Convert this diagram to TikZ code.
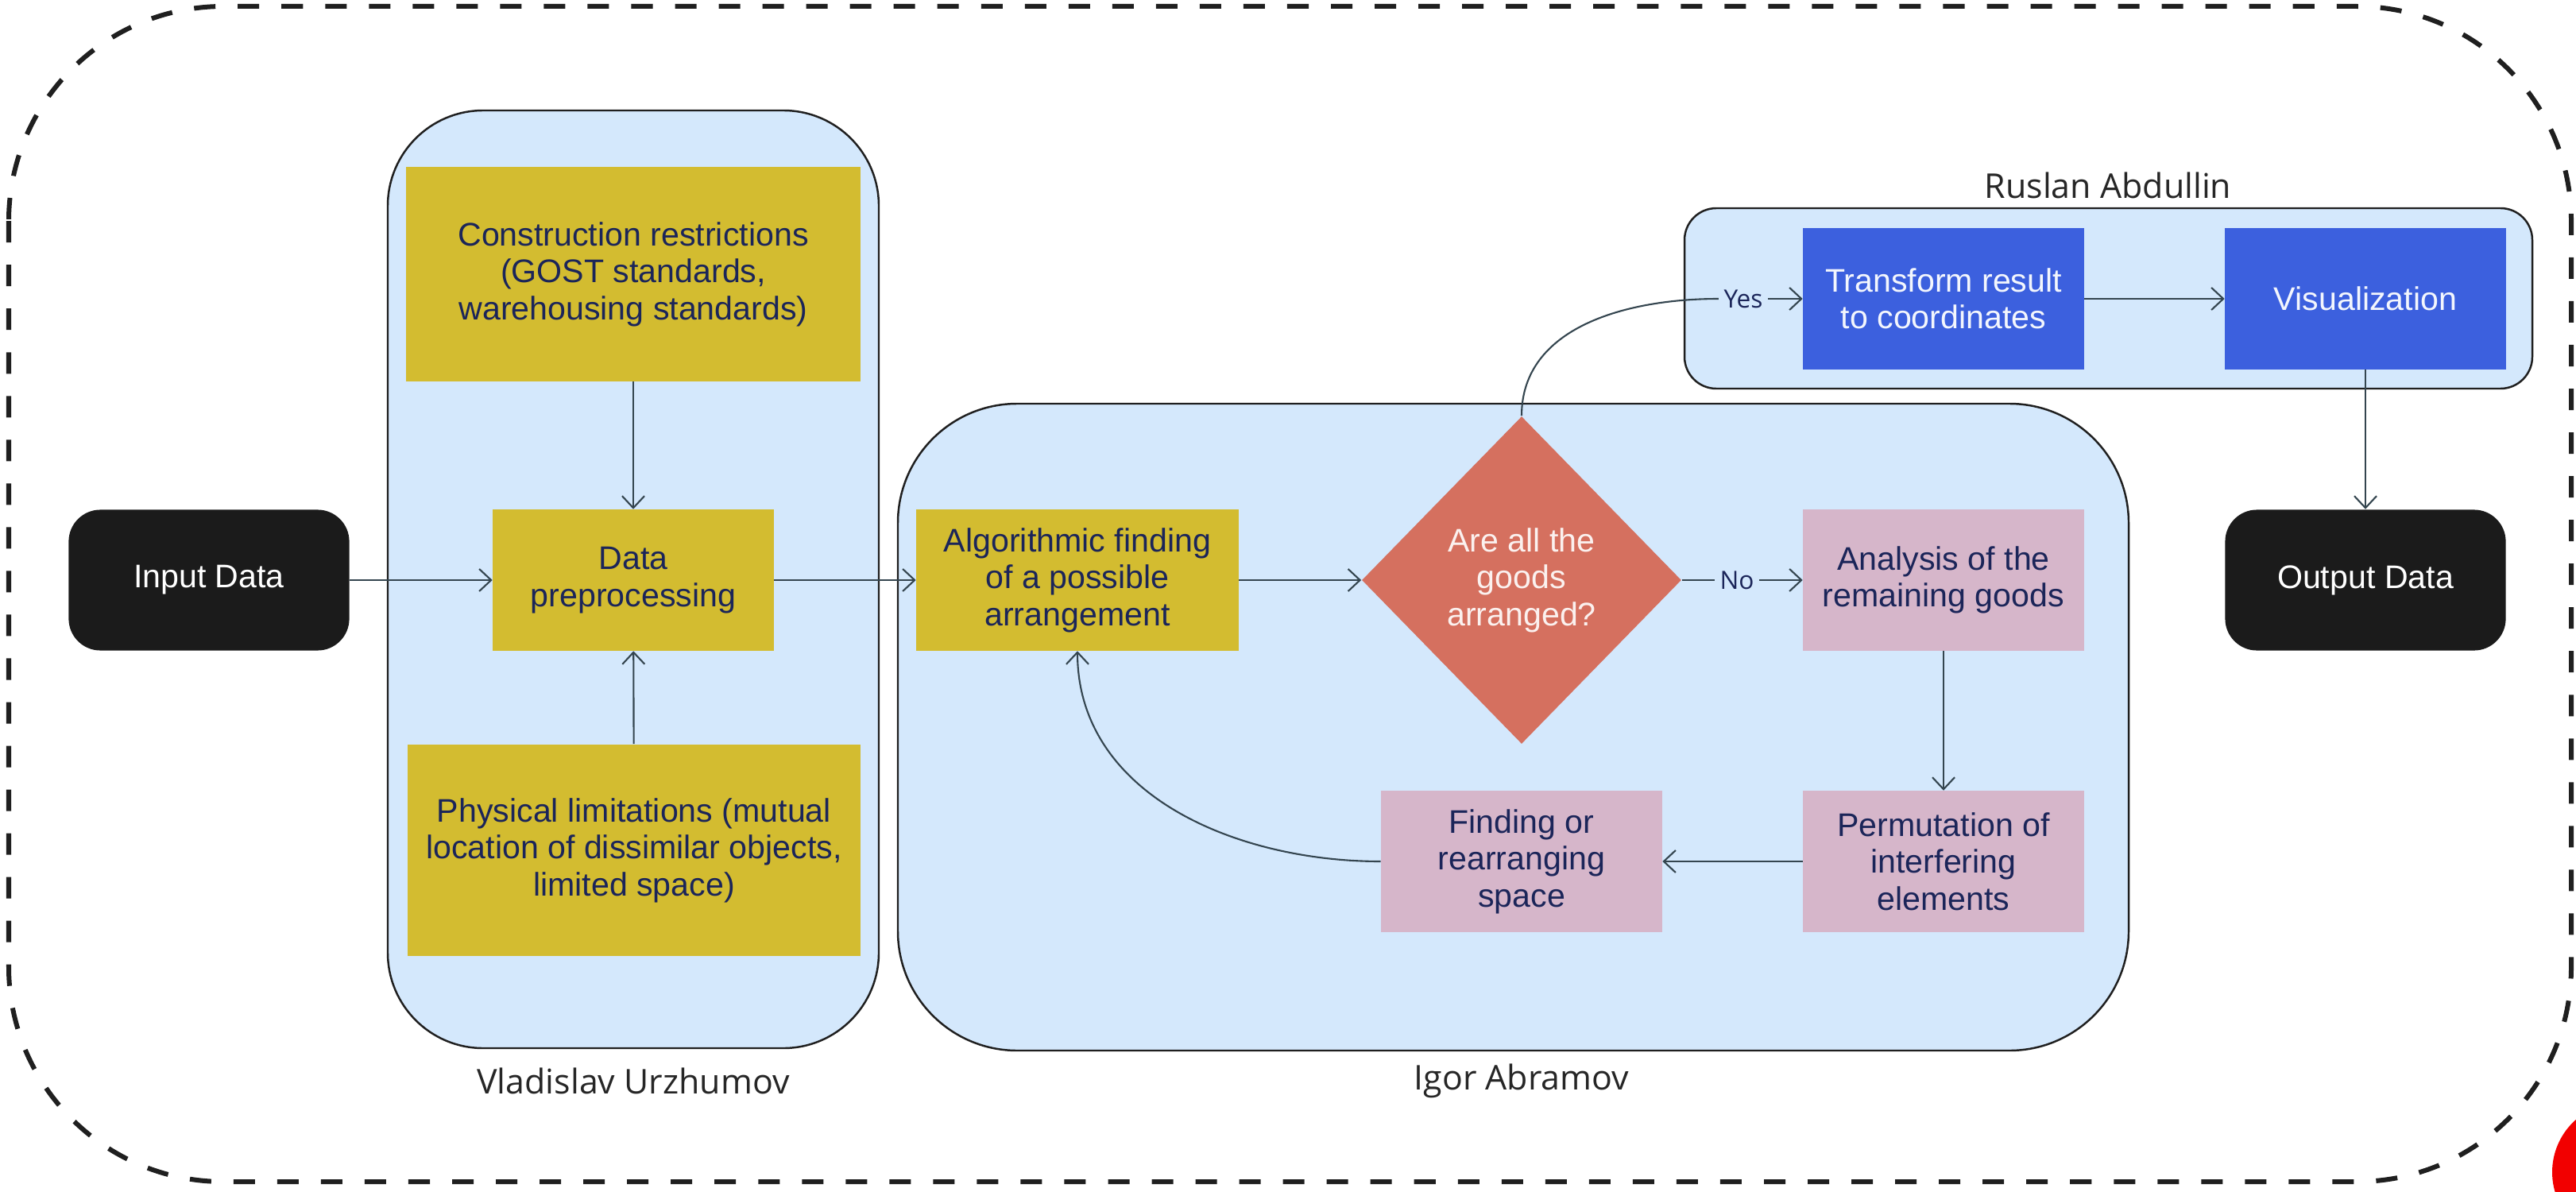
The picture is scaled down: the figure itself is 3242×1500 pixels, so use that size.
\documentclass[tikz,border=0pt]{standalone}
\usepackage{fontspec}
\setmainfont{Liberation Sans}
\newfontfamily\namefont{Open Sans}
\usetikzlibrary{arrows.meta}
\usetikzlibrary{shapes.geometric}

\definecolor{grpblue}{HTML}{D4E8FC}
\definecolor{mustard}{HTML}{D3BC30}
\definecolor{mauve}{HTML}{D6B6CA}
\definecolor{salmon}{HTML}{D5705F}
\definecolor{royal}{HTML}{3C60DE}
\definecolor{inkbox}{HTML}{1B1B1B}
\definecolor{navy}{HTML}{1B2559}
\definecolor{slate}{HTML}{34454F}

\tikzset{
  box/.style={rectangle, inner sep=0pt, minimum width=3.53cm, minimum height=1.77cm,
    align=center, font=\fontsize{11.7}{13.2}\selectfont},
  yellowbox/.style={box, fill=mustard, text=navy},
  pinkbox/.style={box, fill=mauve, text=navy},
  bluebox/.style={box, fill=royal, text=white!94!royal},
  termbox/.style={box, fill=inkbox, text=white, rounded corners=0.4cm},
  decision/.style={diamond, inner sep=0pt, minimum width=4.02cm, minimum height=4.12cm,
    fill=salmon, text=white!90!salmon, align=center, font=\fontsize{11.7}{13.2}\selectfont},
  group/.style={draw=black!88, line width=0.7pt, fill=grpblue},
  frame/.style={draw=black!88, line width=0.06cm, dash pattern=on 0.27cm off 0.28cm},
  owner/.style={font=\namefont\fontsize{12.2}{14}\selectfont, text=black!85},
  answer/.style={font=\namefont\fontsize{9}{10}\selectfont, text=navy, inner sep=0.06cm},
  flow/.style={draw=slate, line width=0.6pt, -{Straight Barb[length=0.15cm,width=0.28cm]}},
  plain/.style={draw=slate, line width=0.6pt},
}

\begin{document}
\begin{tikzpicture}[x=0.01cm,y=-0.01cm]

\useasboundingbox (0,0) rectangle (3242,1500);

% outer frame
\draw[frame, rounded corners=2.7cm] (11,8) rectangle (3236,1487);

% team areas
\draw[group, rounded corners=1.2cm] (488,139) rectangle (1106,1319);
\draw[group, rounded corners=1.5cm] (1130,508) rectangle (2679,1322);
\draw[group, rounded corners=0.4cm] (2120,262) rectangle (3187,489);

\node[owner] (vlad) at (797,1360) {Vladislav Urzhumov};
\node[owner] (igor) at (1915,1360) {Igor Abramov};
\node[owner] (ruslan) at (2653,233) {Ruslan Abdullin};

% input side
\node[termbox] (inp) at (263,730) {Input Data};
\node[yellowbox, minimum width=5.72cm, minimum height=2.69cm] (cons) at (797,345)
  {Construction restrictions\\(GOST standards,\\warehousing standards)};
\node[yellowbox] (prep) at (797,730) {Data\\preprocessing};
\node[yellowbox, minimum width=5.70cm, minimum height=2.66cm] (phys) at (798,1070)
  {Physical limitations (mutual\\location of dissimilar objects,\\limited space)};

% arrangement loop
\node[yellowbox, minimum width=4.05cm] (algo) at (1356,730)
  {Algorithmic finding\\of a possible\\arrangement};
\node[decision] (dia) at (1915,730) {Are all the\\goods\\arranged?};
\node[pinkbox] (ana) at (2446,730) {Analysis of the\\remaining goods};
\node[pinkbox] (perm) at (2446,1084) {Permutation of\\interfering\\elements};
\node[pinkbox] (find) at (1915,1084) {Finding or\\rearranging\\space};

% output side
\node[bluebox] (tf) at (2446,376) {Transform result\\to coordinates};
\node[bluebox] (vis) at (2977,376) {Visualization};
\node[termbox] (out) at (2977,730) {Output Data};

\node[answer] (yes) at (2194,376) {Yes};
\node[answer] (no) at (2186,730) {No};

\draw[flow] (inp) -- (prep);
\draw[flow] (cons) -- (prep);
\draw[flow] (phys) -- (prep);
\draw[flow] (prep) -- (algo);
\draw[flow] (algo) -- (dia);
\draw[plain] (dia.east) -- (no.west);
\draw[flow] (no.east) -- (ana.west);
\draw[flow] (ana) -- (perm);
\draw[flow] (perm) -- (find);
\draw[flow] (find.west) to[out=180,in=-90] (algo.south);
\draw[plain] (dia.north) to[out=90,in=180] (yes.west);
\draw[flow] (yes.east) -- (tf.west);
\draw[flow] (tf) -- (vis);
\draw[flow] (vis) -- (out);

\begin{scope}
\clip (0,0) rectangle (3242,1500);
\fill[red!95!black] (3300,1475) circle [radius=88];
\end{scope}

\end{tikzpicture}
\end{document}
